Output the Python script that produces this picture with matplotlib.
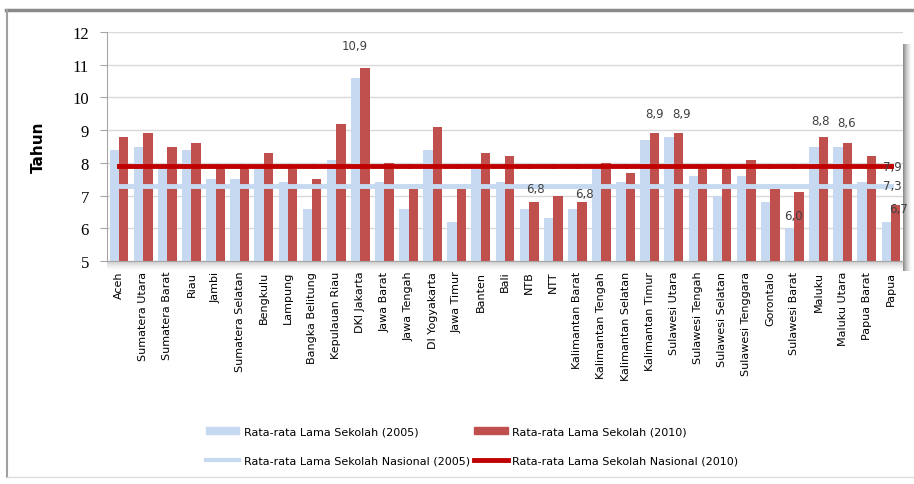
import numpy as np
import matplotlib.pyplot as plt
from matplotlib.lines import Line2D
from matplotlib.patches import Patch

provinsi = ["Aceh", "Sumatera Utara", "Sumatera Barat", "Riau", "Jambi",
            "Sumatera Selatan", "Bengkulu", "Lampung", "Bangka Belitung",
            "Kepulauan Riau", "DKI Jakarta", "Jawa Barat", "Jawa Tengah",
            "DI Yogyakarta", "Jawa Timur", "Banten", "Bali", "NTB", "NTT",
            "Kalimantan Barat", "Kalimantan Tengah", "Kalimantan Selatan",
            "Kalimantan Timur", "Sulawesi Utara", "Sulawesi Tengah",
            "Sulawesi Selatan", "Sulawesi Tenggara", "Gorontalo",
            "Sulawesi Barat", "Maluku", "Maluku Utara", "Papua Barat", "Papua"]

rls_2005 = [8.4, 8.5, 7.9, 8.4, 7.5, 7.5, 7.8, 7.4, 6.6, 8.1, 10.6, 7.4, 6.6,
            8.4, 6.2, 7.8, 7.4, 6.6, 6.3, 6.6, 7.8, 7.4, 8.7, 8.8, 7.6, 7.0,
            7.6, 6.8, 6.0, 8.5, 8.5, 7.4, 6.2]
rls_2010 = [8.8, 8.9, 8.5, 8.6, 7.9, 7.9, 8.3, 7.8, 7.5, 9.2, 10.9, 8.0, 7.2,
            9.1, 7.2, 8.3, 8.2, 6.8, 7.0, 6.8, 8.0, 7.7, 8.9, 8.9, 7.9, 7.9,
            8.1, 7.2, 7.1, 8.8, 8.6, 8.2, 6.7]
nasional_2005 = 7.3
nasional_2010 = 7.9

# (index provinsi, geser x px, geser y px) untuk label nilai
label_2010 = [(10, -10, 22), (17, 2, 14), (19, 2, 9), (22, 0, 20),
              (23, 3, 20), (29, -3, 16), (30, -1, 21), (32, 3, -3)]
label_2005 = [(28, 4, 13)]

C05 = '#C6D9F1'
C10 = '#C0504D'
CNAS10 = '#C00000'

W, H = 914, 485
fig = plt.figure(figsize=(W / 100, H / 100), dpi=100)
ax = fig.add_axes([107 / W, 1 - 262 / H, (903 - 107) / W, (262 - 33) / H])

x = np.arange(len(provinsi))
bw = 0.39
ax.bar(x - bw / 2, rls_2005, bw, color=C05, zorder=2)
ax.bar(x + bw / 2, rls_2010, bw, color=C10, zorder=2)
ax.plot(x, [nasional_2005] * len(x), color=C05, lw=3.5, zorder=3)
ax.plot(x, [nasional_2010] * len(x), color=CNAS10, lw=3.5, marker='o',
        ms=2.5, zorder=4)

ax.set_ylim(5, 12)
ax.set_xlim(-0.5, len(x) - 0.5)
ax.set_yticks(range(5, 13))
ax.yaxis.grid(True, color='#d9d9d9', lw=1)
ax.set_axisbelow(True)
for s in ['top', 'right']:
    ax.spines[s].set_visible(False)
for s in ['left', 'bottom']:
    ax.spines[s].set_color('#a6a6a6')
ax.tick_params(axis='y', length=5, color='#a6a6a6', pad=8,
               labelsize=12, labelfontfamily='Liberation Serif')
ax.set_xticks(x)
ax.set_xticklabels(provinsi, rotation=90, fontsize=8, va='top')
ax.tick_params(axis='x', length=0, pad=7)
ax.set_ylabel('Tahun', fontsize=11, fontweight='bold')
ax.yaxis.set_label_coords(-0.077, 0.5)


def koma(v):
    return f'{v:.1f}'.replace('.', ',')


def tulis(teks, xy, dx, dy):
    ax.annotate(teks, xy, xytext=(dx * 0.72, dy * 0.72),
                textcoords='offset points', ha='center', va='center',
                fontsize=8.5, color='#404040', zorder=6)


for i, dx, dy in label_2010:
    tulis(koma(rls_2010[i]), (x[i] + bw / 2, rls_2010[i]), dx, dy)
for i, dx, dy in label_2005:
    tulis(koma(rls_2005[i]), (x[i] - bw / 2, rls_2005[i]), dx, dy)
# label garis nasional di titik terakhir
tulis(koma(nasional_2010), (x[-1], nasional_2010), 1, 0)
tulis(koma(nasional_2005), (x[-1], nasional_2005), 1, 0)

# bayangan kanan dan bawah area plot
grad = np.linspace(0.55, 0.0, 50)
sh_r = fig.add_axes([903 / W, 1 - 272 / H, 9 / W, (272 - 45) / H], zorder=-1)
sh_r.imshow(grad[None, :], aspect='auto', cmap='Greys', vmin=0, vmax=1)
sh_r.axis('off')
sh_b = fig.add_axes([107 / W, 1 - 271 / H, (903 - 107) / W, 9 / H], zorder=-1)
sh_b.imshow(grad[:, None] * 0.6, aspect='auto', cmap='Greys', vmin=0, vmax=1)
sh_b.axis('off')

# bingkai luar
fig.add_artist(Line2D([6 / W, 1], [1 - 11 / H] * 2, color='#8a8a8a', lw=2.5))
fig.add_artist(Line2D([7 / W] * 2, [1 - 11 / H, 1 - 478 / H],
                      color='#a0a0a0', lw=1.5))
fig.add_artist(Line2D([7 / W, 1], [1 - 478 / H] * 2, color='#dddddd', lw=1))

handles = [Patch(color=C05), Line2D([], [], color=C05, lw=3),
           Patch(color=C10), Line2D([], [], color=CNAS10, lw=3.5)]
labels = ['Rata-rata Lama Sekolah (2005)',
          'Rata-rata Lama Sekolah Nasional (2005)',
          'Rata-rata Lama Sekolah (2010)',
          'Rata-rata Lama Sekolah Nasional (2010)']
fig.legend(handles, labels, ncol=2, loc='center',
           bbox_to_anchor=(472 / W, 1 - 447 / H), frameon=False, fontsize=8,
           handlelength=3.0, handleheight=0.6, handletextpad=0.4,
           columnspacing=0.4, labelspacing=1.7)

fig.savefig('out.png', dpi=100)
